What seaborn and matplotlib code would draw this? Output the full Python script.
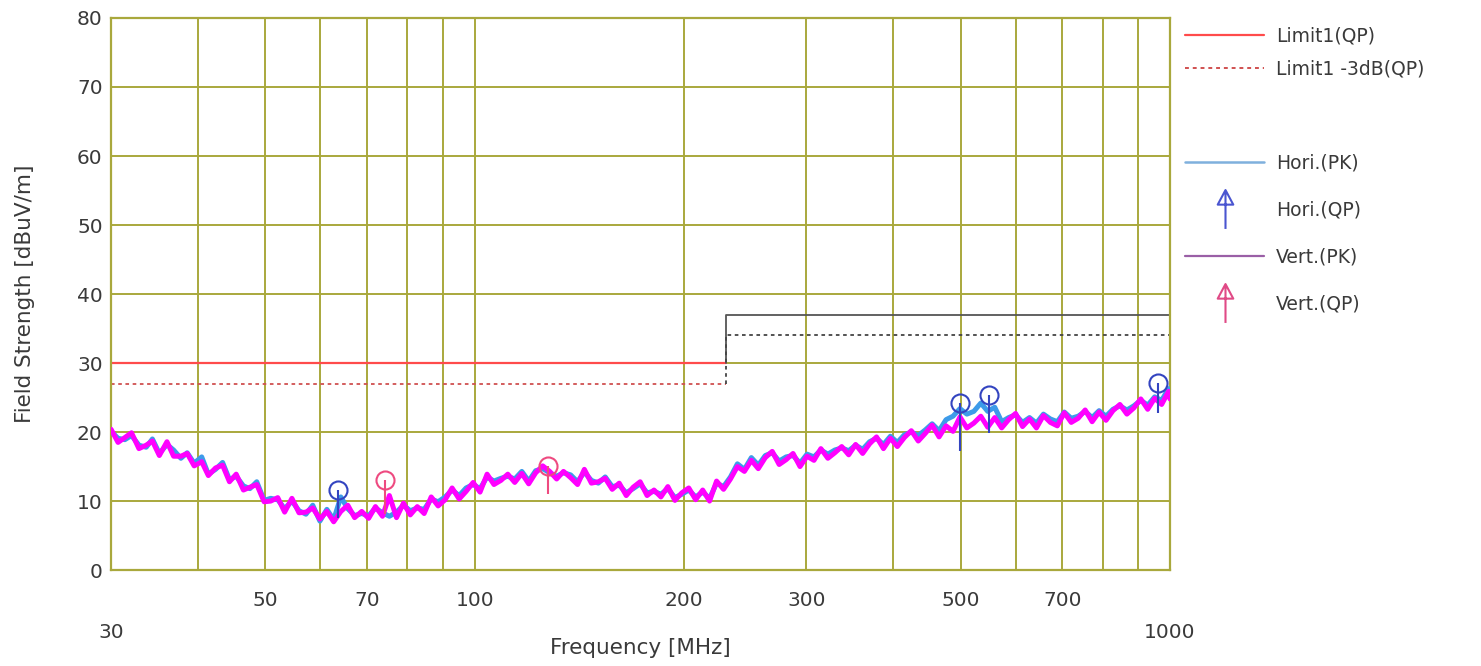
import numpy as np
import pandas as pd
import matplotlib
matplotlib.use("Agg")
import matplotlib.pyplot as plt
import seaborn as sns
from matplotlib.lines import Line2D
from matplotlib.path import Path

# scan frequencies (MHz), shared by both polarisations
freq_mhz = [30.0, 30.7, 31.4, 32.1, 32.9, 33.7, 34.4, 35.2, 36.1, 36.9,
            37.8, 38.6, 39.5, 40.5, 41.4, 42.4, 43.4, 44.4, 45.4, 46.5,
            47.5, 48.6, 49.8, 50.9, 52.1, 53.3, 54.6, 55.9, 57.2, 58.5,
            59.9, 61.3, 62.7, 64.2, 65.7, 67.2, 68.8, 70.4, 72.0, 73.7,
            75.4, 77.2, 79.0, 80.8, 82.7, 84.6, 86.6, 88.6, 90.7, 92.8,
            95.0, 97.2, 99.5, 101.8, 104.2, 106.6, 109.1, 111.6, 114.2, 116.9,
            119.6, 122.4, 125.3, 128.2, 131.2, 134.2, 137.4, 140.6, 143.8, 147.2,
            150.6, 154.1, 157.7, 161.4, 165.2, 169.0, 173.0, 177.0, 181.1, 185.3,
            189.6, 194.1, 198.6, 203.2, 207.9, 212.8, 217.7, 222.8, 228.0, 233.3,
            238.7, 244.3, 250.0, 255.8, 261.8, 267.9, 274.1, 280.5, 287.0, 293.7,
            300.6, 307.6, 314.7, 322.1, 329.6, 337.2, 345.1, 353.1, 361.4, 369.8,
            378.4, 387.2, 396.2, 405.4, 414.9, 424.6, 434.5, 444.6, 454.9, 465.5,
            476.4, 487.5, 498.8, 510.4, 522.3, 534.5, 546.9, 559.7, 572.7, 586.1,
            599.7, 613.7, 628.0, 642.6, 657.6, 672.9, 688.6, 704.7, 721.1, 737.9,
            755.1, 772.7, 790.7, 809.1, 827.9, 847.2, 867.0, 887.2, 907.8, 928.9,
            950.6, 972.7, 995.4, 1000.0]

# horizontal polarisation, peak detector (dBuV/m)
hori_pk = [20.1, 19.1, 18.9, 19.5, 18.1, 17.8, 19.0, 16.9, 18.2, 17.4,
           16.2, 17.0, 15.5, 16.4, 13.9, 14.6, 15.6, 13.1, 13.6, 12.2,
           11.8, 12.8, 10.1, 10.4, 10.2, 8.9, 10.0, 8.6, 8.1, 9.4,
           7.1, 8.8, 7.3, 10.6, 8.9, 7.9, 8.2, 7.9, 9.0, 8.3,
           7.8, 8.4, 9.4, 8.6, 9.0, 8.8, 10.3, 9.9, 10.6, 11.6,
           10.8, 11.9, 12.4, 11.8, 13.5, 12.9, 13.3, 13.6, 13.2, 14.3,
           12.9, 14.4, 14.7, 14.1, 13.6, 14.1, 13.8, 12.8, 14.2, 13.0,
           12.6, 13.5, 12.1, 12.3, 11.2, 11.8, 12.5, 11.2, 11.4, 11.0,
           11.8, 10.5, 11.0, 11.6, 10.6, 11.3, 10.4, 12.6, 12.1, 13.5,
           15.4, 14.6, 16.3, 15.2, 16.6, 17.0, 15.8, 16.4, 16.6, 15.5,
           16.8, 16.4, 17.4, 16.8, 17.4, 17.7, 17.3, 18.1, 17.5, 18.6,
           19.1, 18.2, 19.4, 18.5, 19.6, 20.0, 19.5, 20.3, 21.2, 20.2,
           21.8, 22.3, 23.4, 22.6, 23.0, 24.2, 23.0, 23.6, 21.5, 22.1,
           22.5, 21.4, 22.1, 21.3, 22.6, 21.9, 21.5, 22.9, 22.0, 22.3,
           23.0, 22.1, 23.1, 22.3, 23.3, 23.8, 23.2, 23.8, 24.6, 23.9,
           25.1, 24.6, 26.3, 25.5]

# vertical polarisation, peak detector (dBuV/m)
vert_pk = [20.4, 18.5, 19.2, 19.9, 17.6, 18.1, 18.7, 16.6, 18.6, 16.5,
           16.5, 16.9, 15.1, 15.7, 13.7, 14.8, 15.2, 12.8, 13.9, 11.6,
           12.0, 12.4, 9.9, 10.0, 10.5, 8.4, 10.4, 8.3, 8.4, 9.0,
           7.4, 8.5, 7.0, 8.5, 9.4, 7.6, 8.5, 7.5, 9.2, 7.8,
           10.8, 7.6, 9.7, 8.0, 9.2, 8.2, 10.6, 9.3, 10.2, 11.9,
           10.3, 11.4, 12.7, 11.3, 13.9, 12.4, 13.0, 13.9, 12.7, 14.0,
           12.5, 14.1, 15.1, 14.3, 13.2, 14.3, 13.4, 12.4, 14.6, 12.6,
           12.8, 13.3, 11.7, 12.6, 10.8, 12.0, 12.8, 10.8, 11.6, 10.6,
           12.1, 10.1, 11.2, 11.9, 10.2, 11.6, 10.0, 12.9, 11.7, 13.2,
           15.0, 14.3, 15.9, 14.7, 16.3, 17.2, 15.3, 16.0, 16.9, 15.0,
           16.5, 15.9, 17.6, 16.2, 17.0, 17.9, 16.7, 18.2, 16.9, 18.3,
           19.3, 17.6, 19.1, 17.9, 19.2, 20.2, 18.7, 19.8, 21.0, 19.3,
           20.9, 20.1, 22.2, 20.6, 21.3, 22.3, 20.7, 22.1, 20.6, 21.8,
           22.7, 20.8, 21.9, 20.6, 22.4, 21.4, 20.9, 22.8, 21.4, 22.0,
           23.2, 21.5, 22.9, 21.7, 23.1, 24.0, 22.6, 23.5, 24.8, 23.3,
           24.9, 24.0, 25.9, 24.8]

# limit lines
limit_freq = [30, 230, 230, 1000]
limit_qp = [30, 30, 37, 37]
limit_qp_3db = [27, 27, 34, 34]

# quasi-peak measurements
hori_qp_freq = [63.6, 499, 549, 961]
hori_qp_level = [11.6, 24.2, 25.4, 27.1]
hori_qp_foot = [7.6, 17.2, 19.8, 22.8]
vert_qp_freq = [74.3, 127.5]
vert_qp_level = [13.0, 15.1]
vert_qp_foot = [8.2, 11.0]

grid_freqs = [40, 50, 60, 70, 80, 90, 100, 200, 300, 400, 500, 600, 700, 800, 900]
xticks_row1 = [50, 70, 100, 200, 300, 500, 700]
xticks_row2 = [30, 1000]
yticks = [0, 10, 20, 30, 40, 50, 60, 70, 80]

GRID = "#a9a83c"
TXT = "#3a3a3a"
HORI_PK = "#3d9be9"
VERT_PK = "#ff00ff"
HORI_QP = "#3344c0"
VERT_QP = "#ee4a80"

sns.set_style("white")
plt.rcParams["font.family"] = ["DejaVu Sans"]

fig, ax = plt.subplots(figsize=(14.81, 6.66), dpi=100)
fig.subplots_adjust(left=0.075, right=0.790, top=0.973, bottom=0.144)

df = pd.DataFrame({
    "freq": freq_mhz * 2,
    "level": hori_pk + vert_pk,
    "pol": ["Hori.(PK)"] * len(freq_mhz) + ["Vert.(PK)"] * len(freq_mhz),
})
sns.lineplot(data=df, x="freq", y="level", hue="pol",
             palette={"Hori.(PK)": HORI_PK, "Vert.(PK)": VERT_PK},
             estimator=None, sort=False, lw=3.6, legend=False, ax=ax, zorder=3)

# limits
ax.plot(limit_freq[:2], limit_qp[:2], color="#ff4b4b", lw=1.6, zorder=2)
ax.plot(limit_freq[1:], limit_qp[1:], color="#555555", lw=1.3, zorder=2)
ax.plot(limit_freq[:2], limit_qp_3db[:2], color="#d05050", lw=1.3, ls=(0, (2, 2)), zorder=2)
ax.plot(limit_freq[1:], limit_qp_3db[1:], color="#444444", lw=1.3, ls=(0, (2, 2)), zorder=2)

# QP markers with stems
ax.vlines(hori_qp_freq, hori_qp_foot, hori_qp_level, color=HORI_QP, lw=1.5, zorder=4)
ax.plot(hori_qp_freq, hori_qp_level, ls="none", marker="o", ms=13, mfc="none",
        mec=HORI_QP, mew=1.5, zorder=5)
ax.vlines(vert_qp_freq, vert_qp_foot, vert_qp_level, color=VERT_QP, lw=1.5, zorder=4)
ax.plot(vert_qp_freq, vert_qp_level, ls="none", marker="o", ms=13, mfc="none",
        mec=VERT_QP, mew=1.5, zorder=5)

ax.set_xscale("log")
ax.set_xlim(30, 1000)
ax.set_ylim(0, 80)

for f in grid_freqs:
    ax.axvline(f, color=GRID, lw=1.4, zorder=1)
for v in yticks[1:-1]:
    ax.axhline(v, color=GRID, lw=1.4, zorder=1)
for s in ax.spines.values():
    s.set_color(GRID)
    s.set_linewidth(1.6)

ax.set_xticks(xticks_row1, [str(v) for v in xticks_row1])
ax.set_xticks(xticks_row2, [str(v) for v in xticks_row2], minor=True)
ax.set_yticks(yticks, [str(v) for v in yticks])
ax.tick_params(axis="x", which="major", length=0, pad=15, labelsize=14.5, labelcolor=TXT)
ax.tick_params(axis="x", which="minor", length=0, pad=38, labelsize=14.5, labelcolor=TXT)
ax.tick_params(axis="y", length=0, pad=6, labelsize=14.5, labelcolor=TXT)

ax.set_xlabel("Frequency [MHz]", fontsize=15.5, color=TXT, labelpad=-3)
ax.set_ylabel("Field Strength [dBuV/m]", fontsize=15.5, color=TXT, labelpad=30)

# arrow-style marker for QP legend entries
arrow = Path([(0, -1), (0, 0.9), (-0.4, 0.25), (0, 1), (0.4, 0.25), (-0.4, 0.25)],
             [Path.MOVETO, Path.LINETO, Path.MOVETO, Path.LINETO, Path.LINETO, Path.CLOSEPOLY])

lim_handles = [
    Line2D([], [], color="#ff4b4b", lw=1.6),
    Line2D([], [], color="#d05050", lw=1.4, ls=(0, (2, 2))),
]
fig.legend(lim_handles, ["Limit1(QP)", "Limit1 -3dB(QP)"],
           loc="upper left", bbox_to_anchor=(0.789, 0.985), frameon=False,
           fontsize=13.5, handlelength=4.2, handletextpad=0.65, labelspacing=0.75,
           labelcolor=TXT)

trace_handles = [
    Line2D([], [], color="#7fb0dd", lw=1.8),
    Line2D([], [], ls="none", marker=arrow, ms=28, mfc="none", mec="#4a55d0", mew=1.5),
    Line2D([], [], color="#9a5fa6", lw=1.6),
    Line2D([], [], ls="none", marker=arrow, ms=28, mfc="none", mec="#e04a86", mew=1.5),
]
fig.legend(trace_handles, ["Hori.(PK)", "Hori.(QP)", "Vert.(PK)", "Vert.(QP)"],
           loc="upper left", bbox_to_anchor=(0.789, 0.795), frameon=False,
           fontsize=13.5, handlelength=4.2, handletextpad=0.65, labelspacing=1.5,
           labelcolor=TXT)

fig.savefig("out.png", dpi=100)
